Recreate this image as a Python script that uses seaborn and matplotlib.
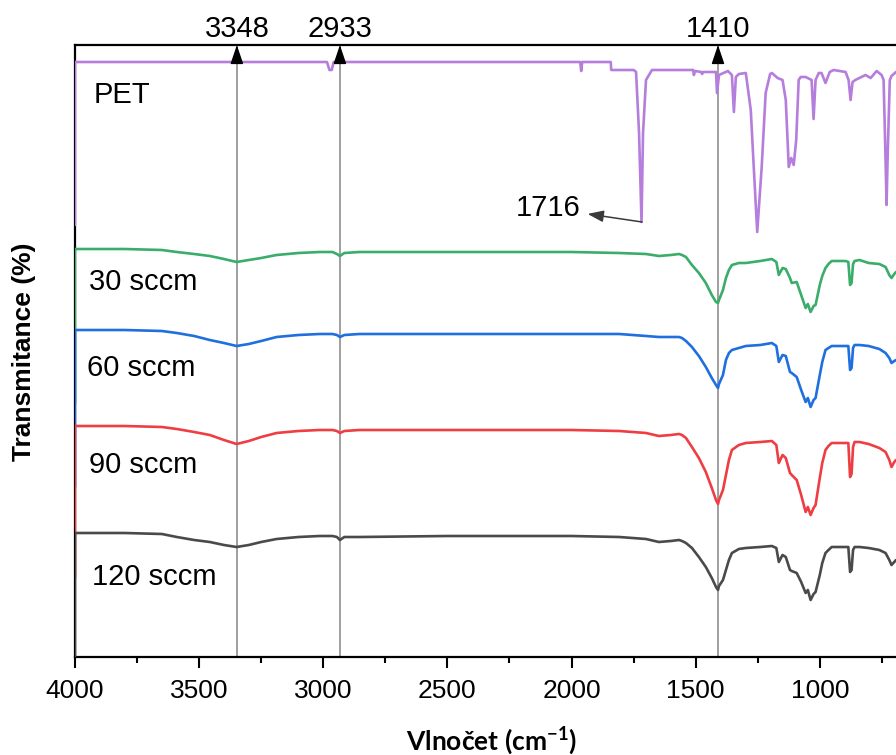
import matplotlib
matplotlib.use("Agg")
import matplotlib.pyplot as plt
import matplotlib.transforms as mtransforms
import seaborn as sns
import pandas as pd

sns.set_style("white")
plt.rcParams['font.family'] = ['Liberation Sans', 'DejaVu Sans']
plt.rcParams['mathtext.fontset'] = 'custom'
plt.rcParams['mathtext.rm'] = 'Lato:bold'
plt.rcParams['mathtext.bf'] = 'Lato:bold'
plt.rcParams['text.color'] = 'black'
plt.rcParams['axes.labelcolor'] = 'black'
plt.rcParams['xtick.color'] = 'black'
plt.rcParams['ytick.color'] = 'black'

# ---------------- data (offset transmittance, arbitrary units) ----------------
pet_wn = [4000, 4000, 2985, 2975, 2966, 2958, 1965, 1961, 1957, 1842, 1840, 1750, 1740,
          1728, 1718, 1712, 1700, 1676, 1600, 1510, 1507, 1503, 1478, 1474, 1470, 1418,
          1414, 1406, 1370, 1354, 1346, 1338, 1326, 1298, 1278, 1266, 1252, 1234, 1218,
          1200, 1193, 1170, 1150, 1137, 1125, 1115, 1105, 1095, 1085, 1077, 1057, 1033,
          1025, 1017, 1004, 993, 977, 960, 944, 896, 884, 876, 868, 857, 816, 795, 771,
          751, 743, 736, 731, 726, 718, 711, 693]
pet_t = [432, 595, 595, 587, 587, 595, 595, 586, 595, 595, 587, 587, 585,
         524, 435, 524, 577, 587, 587, 587, 582, 586, 585, 583, 585, 585,
         564, 582, 586, 582, 545, 580, 583, 584, 547, 490, 425, 490, 564,
         583, 584, 579, 577, 557, 490, 499, 492, 517, 577, 580, 580, 577,
         538, 577, 584, 584, 574, 585, 587, 585, 577, 557, 575, 577, 582, 579, 586,
         582, 577, 507, 452, 507, 577, 581, 585]

film_wn = [4000, 4000, 3900, 3800, 3650, 3590, 3520, 3457, 3400, 3349,
           3300, 3250, 3188, 3100, 3015, 2963, 2945, 2933, 2915, 2854,
           2500, 2000, 1808, 1700, 1648, 1600, 1567, 1555, 1539, 1515,
           1487, 1459, 1435, 1418, 1410, 1406, 1390, 1378, 1366, 1354,
           1326, 1298, 1240, 1193, 1175, 1165, 1150, 1137, 1120, 1113,
           1093, 1075, 1057, 1048, 1037, 1025, 1017, 1000, 990, 977,
           965, 952, 896, 885, 878, 872, 866, 860, 840, 803,
           760, 735, 720, 711, 700, 693]

t_30 = [254, 408, 408, 408, 407, 405, 403, 401, 398, 395,
        397, 399, 402, 404, 405, 405, 403, 401, 404, 405,
        405, 405, 404, 403, 401, 402, 403, 402, 400, 392,
        384, 374, 362, 355, 354, 357, 367, 379, 387, 392,
        394, 394, 396, 398, 395, 382, 389, 388, 379, 374,
        375, 362, 349, 353, 345, 351, 352, 372, 381, 389,
        393, 396, 396, 395, 372, 374, 393, 396, 397, 394,
        393, 390, 382, 379, 383, 385]
t_60 = [170, 327, 327, 327, 326, 324, 321, 317, 314, 311,
        313, 316, 320, 322, 323, 323, 322, 320, 322, 323,
        323, 323, 323, 321, 320, 320, 320, 319, 316, 310,
        301, 290, 279, 272, 269, 273, 282, 297, 304, 307,
        309, 311, 312, 314, 311, 295, 302, 301, 285, 284,
        280, 267, 255, 259, 250, 257, 259, 282, 295, 307,
        309, 311, 311, 311, 287, 289, 309, 312, 312, 311,
        308, 304, 299, 294, 296, 297]
t_90 = [79, 231, 231, 231, 230, 228, 225, 222, 217, 213,
        216, 220, 224, 226, 227, 227, 226, 224, 226, 227,
        227, 227, 226, 224, 221, 222, 223, 222, 219, 210,
        199, 185, 169, 157, 153, 157, 167, 182, 197, 207,
        212, 214, 215, 216, 212, 194, 202, 199, 184, 182,
        177, 162, 145, 150, 142, 149, 152, 179, 194, 207,
        211, 214, 214, 214, 180, 183, 210, 215, 215, 213,
        209, 205, 197, 190, 195, 197]
t_120 = [0, 124, 124, 124, 123, 120, 117, 115, 112, 110,
         112, 115, 118, 120, 121, 121, 120, 117, 120, 120,
         121, 121, 120, 118, 115, 116, 117, 116, 114, 109,
         100, 90, 79, 70, 67, 71, 77, 87, 97, 104,
         108, 109, 110, 111, 109, 95, 102, 100, 87, 86,
         84, 75, 64, 67, 57, 63, 65, 82, 94, 104,
         107, 110, 110, 110, 85, 87, 107, 110, 110, 109,
         107, 104, 97, 92, 95, 97]

series_names = ["PET", "30 sccm", "60 sccm", "90 sccm", "120 sccm"]
series_colors = ["#b57ddc", "#3aad6a", "#1f6fdf", "#ee3e44", "#4a4a4a"]

marked_peaks = [3348, 2933, 1410]
pet_peak = 1716

# ---------------- figure ----------------
W, H = 896, 755
fig = plt.figure(figsize=(W / 100, H / 100), dpi=100)
ax = fig.add_axes([75 / W, 1 - 657 / H, 1 - 75 / W, 612 / H])

all_x = [pet_wn, film_wn, film_wn, film_wn, film_wn]
all_y = [pet_t, t_30, t_60, t_90, t_120]
for name, xs, ys, col in zip(series_names, all_x, all_y, series_colors):
    df = pd.DataFrame({"wn": xs, "t": ys})
    sns.lineplot(data=df, x="wn", y="t", sort=False, estimator=None, color=col,
                 lw=1.9, ax=ax, zorder=3)

ax.set_xlim(4000, 693)
ax.set_ylim(0, 612)

# reference lines with arrowheads at the top
trans = mtransforms.blended_transform_factory(ax.transData, ax.transAxes)
for p in marked_peaks:
    ax.axvline(p, color="#858585", lw=1.1, zorder=1)
    ax.annotate("", xy=(p, 1.0), xycoords=trans, xytext=(p, 0.975), textcoords=trans,
                arrowprops=dict(arrowstyle="-|>,head_length=0.65,head_width=0.22",
                                color="black", lw=1, mutation_scale=18,
                                shrinkA=0, shrinkB=0), annotation_clip=False)
    ax.annotate(str(p), xy=(p, 1.0), xycoords=trans, xytext=(0, 6),
                textcoords="offset points", ha="center", va="baseline",
                fontsize=21, annotation_clip=False)

# 1716 label
ax.annotate(str(pet_peak), xy=(pet_peak, 435), xytext=(1965, 449),
            ha="right", va="center", fontsize=21,
            arrowprops=dict(arrowstyle="<|-,head_length=0.6,head_width=0.22",
                            color="#3a3a3a", lw=1.1, mutation_scale=16,
                            shrinkA=3, shrinkB=0))

# series labels
label_pos = [(3926, 562), (3942, 375), (3950, 289), (3942, 192), (3930, 80)]
for name, (lx, ly) in zip(series_names, label_pos):
    ax.text(lx, ly, name, fontsize=21, ha="left", va="center")

# axes styling
ax.spines["right"].set_visible(False)
for s in ["left", "top", "bottom"]:
    ax.spines[s].set_linewidth(1.6)
    ax.spines[s].set_color("black")
ax.set_xticks([4000, 3500, 3000, 2500, 2000, 1500, 1000])
ax.set_xticks([3750, 3250, 2750, 2250, 1750, 1250, 750], minor=True)
ax.tick_params(axis="x", which="major", direction="out", length=8, width=1.5,
               labelsize=19, pad=8, bottom=True, top=False)
ax.tick_params(axis="x", which="minor", direction="out", length=4.5, width=1.5,
               bottom=True, top=False)
ax.set_yticks([])

ax.set_xlabel(r"Vlnočet (cm$^{-1}$)", fontsize=19, fontweight="bold",
              family=["Lato", "DejaVu Sans"])
ax.xaxis.label.set_va("center")
ax.xaxis.set_label_coords(0.507, -0.136)
ax.set_ylabel("Transmitance (%)", fontsize=19, fontweight="bold")
ax.yaxis.label.set_va("center")
ax.yaxis.set_label_coords(-0.062, 0.498)

fig.savefig("out.png", dpi=100)
